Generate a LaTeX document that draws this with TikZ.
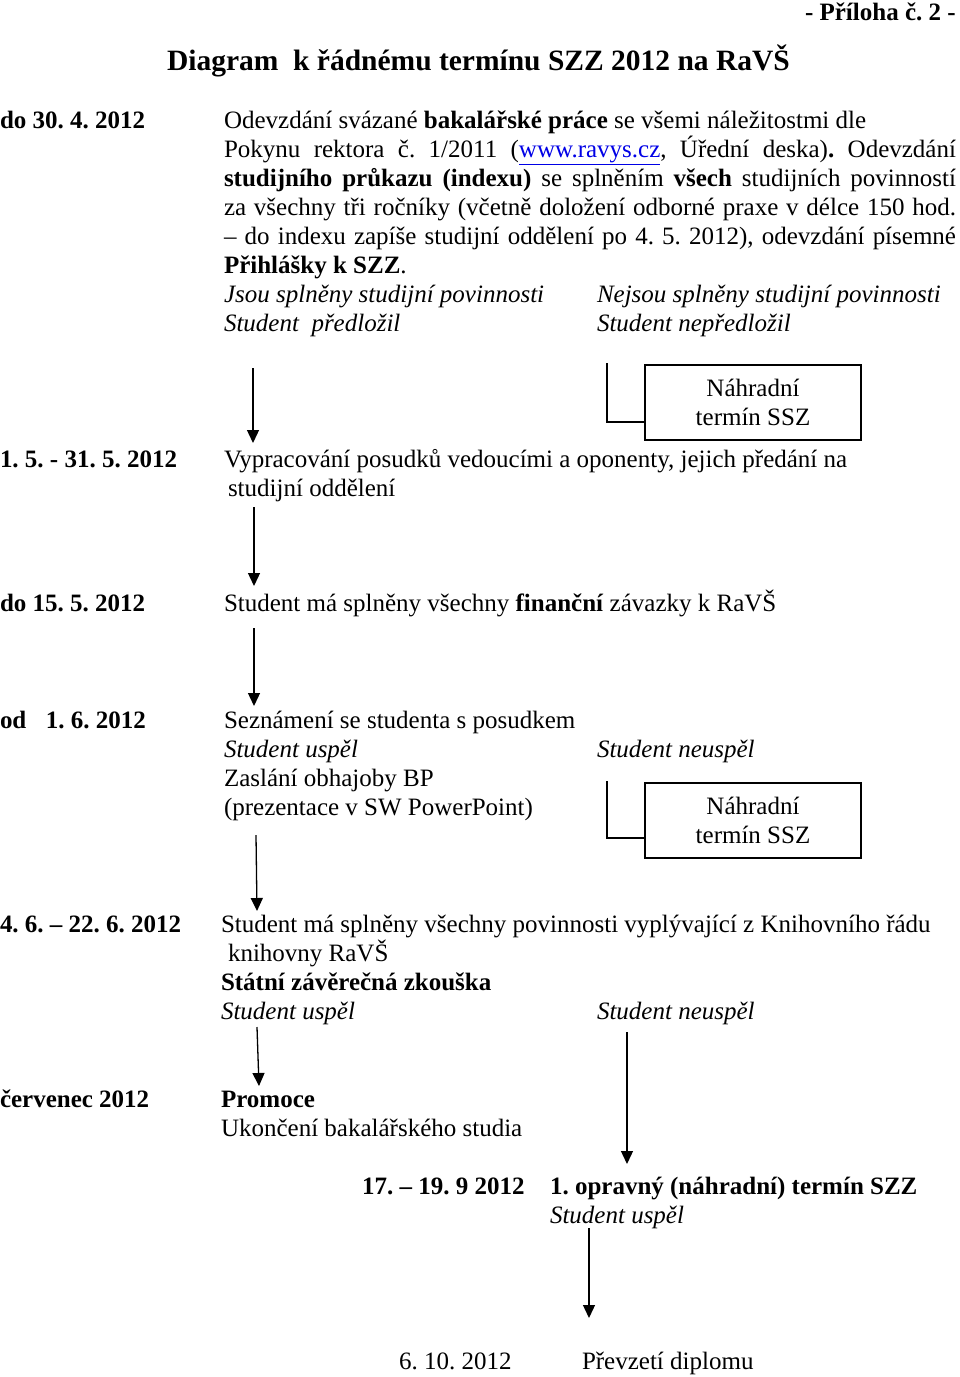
\documentclass[tikz,border=0pt]{standalone}
\usepackage{fontspec}
\setmainfont{Liberation Serif}
\usetikzlibrary{arrows.meta}
\newcommand\myfont{\fontsize{25pt}{29pt}\selectfont\frenchspacing}
\newcommand\mytitlefont{\fontsize{29.5pt}{34pt}\selectfont\bfseries\frenchspacing}
\newcommand\jline[1]{\hbox to 732pt{#1}}
\newcommand\mylink[1]{\textcolor{linkblue}{\underline{#1}}}
\definecolor{linkblue}{RGB}{0,0,230}
\frenchspacing
\begin{document}
\begin{tikzpicture}[x=1pt,y=-1pt,
  txt/.style={anchor=base west,inner sep=0pt,outer sep=0pt,font=\myfont},
  btxt/.style={txt,font=\myfont\bfseries},
  itxt/.style={txt,font=\myfont\itshape},
  nbox/.style={draw,line width=1.3pt,minimum width=216pt,minimum height=75pt,inner sep=0pt,align=center,font=\myfont},
  arr/.style={line width=1.3pt,-{Triangle[length=13pt,width=12pt]}},
  conn/.style={line width=1.3pt}]
\useasboundingbox (0,0) rectangle (960,1377);
% header
\node[btxt] (pril) at (805,20) {- Příloha č. 2 -};
\node[txt,font=\mytitlefont] (title) at (167,70) {Diagram\ \ k řádnému termínu SZZ 2012 na RaVŠ};
% block 1
\node[btxt] (d1) at (0,128) {do 30. 4. 2012};
\node[txt] (t1) at (224,128) {Odevzdání svázané \textbf{bakalářské práce} se všemi náležitostmi dle};
\node[txt] (t2) at (224,157) {\jline{Pokynu rektora č. 1/2011 (\mylink{www.ravys.cz}, Úřední deska)\textbf{.} Odevzdání}};
\node[txt] (t3) at (224,186) {\jline{\textbf{studijního průkazu (indexu)} se splněním \textbf{všech} studijních povinností}};
\node[txt] (t4) at (224,215) {\jline{za všechny tři ročníky (včetně doložení odborné praxe v délce 150 hod.}};
\node[txt] (t5) at (224,244) {\jline{– do indexu zapíše studijní oddělení po 4. 5. 2012), odevzdání písemné}};
\node[txt] (t6) at (224,273) {\textbf{Přihlášky k SZZ}.};
\node[itxt] (i1) at (224,302) {Jsou splněny studijní povinnosti};
\node[itxt] (i2) at (597,302) {Nejsou splněny studijní povinnosti};
\node[itxt] (i3) at (224,331) {Student\ \ předložil};
\node[itxt] (i4) at (597,331) {Student nepředložil};
\node[nbox] (box1) at (753,402.5) {Náhradní\\termín SSZ};
\coordinate (b1s) at (607,363);
\coordinate (b1k) at (607,422);
\draw[conn] (b1s) -- (b1k) -- (b1k -| box1.west);
\coordinate (a1s) at (253,368);
\coordinate (a1e) at (253,443);
\draw[arr] (a1s) -- (a1e);
% block 2
\node[btxt] (d2) at (0,467) {1. 5. - 31. 5. 2012};
\node[txt] (t7) at (224,467) {Vypracování posudků vedoucími a oponenty, jejich předání na};
\node[txt] (t8) at (228,496) {studijní oddělení};
\coordinate (a2s) at (254,507);
\coordinate (a2e) at (254,586);
\draw[arr] (a2s) -- (a2e);
% block 3
\node[btxt] (d3) at (0,611) {do 15. 5. 2012};
\node[txt] (t9) at (224,611) {Student má splněny všechny \textbf{finanční} závazky k RaVŠ};
\coordinate (a3s) at (254,628);
\coordinate (a3e) at (254,706);
\draw[arr] (a3s) -- (a3e);
% block 4
\node[btxt] (d4) at (0,728) {od\hspace{19.5pt}1. 6. 2012};
\node[txt] (t10) at (224,728) {Seznámení se studenta s posudkem};
\node[itxt] (t11) at (224,757) {Student uspěl};
\node[itxt] (t12) at (597,757) {Student neuspěl};
\node[txt] (t13) at (224,786) {Zaslání obhajoby BP};
\node[txt] (t14) at (224,815) {(prezentace v SW PowerPoint)};
\node[nbox] (box2) at (753,820.5) {Náhradní\\termín SSZ};
\coordinate (b2s) at (607,781);
\coordinate (b2k) at (607,838);
\draw[conn] (b2s) -- (b2k) -- (b2k -| box2.west);
\coordinate (a4s) at (256,835);
\coordinate (a4e) at (257,911);
\draw[arr] (a4s) -- (a4e);
% block 5
\node[btxt] (d5) at (0,932) {4. 6. – 22. 6. 2012};
\node[txt] (t15) at (221,932) {Student má splněny všechny povinnosti vyplývající z Knihovního řádu};
\node[txt] (t16) at (228,961) {knihovny RaVŠ};
\node[btxt] (t17) at (221,990) {Státní závěrečná zkouška};
\node[itxt] (t18) at (221,1019) {Student uspěl};
\node[itxt] (t19) at (597,1019) {Student neuspěl};
\coordinate (a5s) at (257,1027);
\coordinate (a5e) at (259,1086);
\draw[arr] (a5s) -- (a5e);
\coordinate (a6s) at (627,1032);
\coordinate (a6e) at (627,1164);
\draw[arr] (a6s) -- (a6e);
% block 6
\node[btxt] (d6) at (0,1107) {červenec 2012};
\node[btxt] (t20) at (221,1107) {Promoce};
\node[txt] (t21) at (221,1136) {Ukončení bakalářského studia};
% block 7
\node[btxt] (d7) at (362,1194) {17. – 19. 9 2012};
\node[btxt] (t22) at (550,1194) {1. opravný (náhradní) termín SZZ};
\node[itxt] (t23) at (550,1223) {Student uspěl};
\coordinate (a7s) at (589,1228);
\coordinate (a7e) at (589,1318);
\draw[arr] (a7s) -- (a7e);
% block 8
\node[txt] (d8) at (399,1369) {6. 10. 2012};
\node[txt] (t24) at (582,1369) {Převzetí diplomu};
\end{tikzpicture}
\end{document}
